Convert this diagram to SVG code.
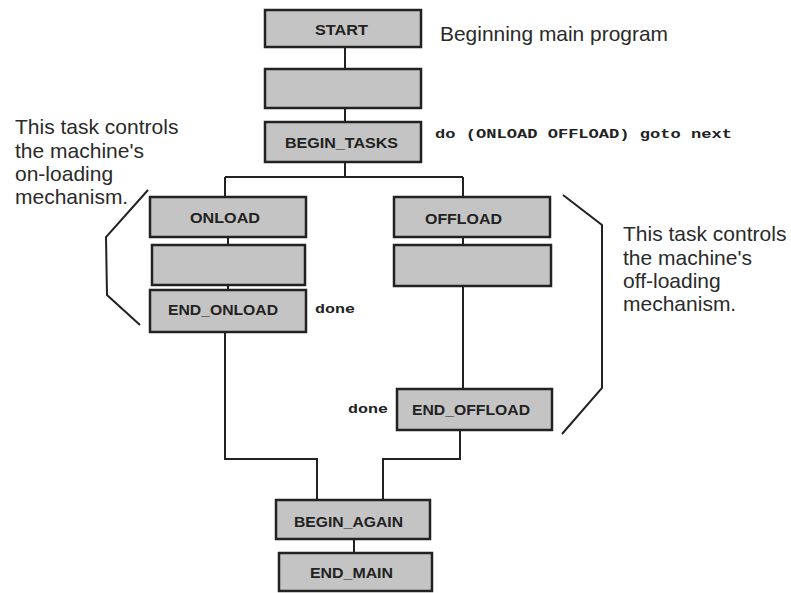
<svg xmlns="http://www.w3.org/2000/svg" width="791" height="593" viewBox="0 0 791 593">
<style>
.box{fill:#c4c4c4;stroke:#222;stroke-width:2.5}
.lbl{font-family:"Liberation Sans",Arial,sans-serif;font-weight:bold;font-size:15px;fill:#222;text-anchor:middle}
.note{font-family:"Liberation Sans",Arial,sans-serif;font-size:21px;fill:#2a2a2a}
.code{font-family:"Liberation Mono","Courier New",monospace;font-weight:bold;font-size:13px;fill:#222}
.ln{fill:none;stroke:#222;stroke-width:2}
</style>
<rect width="791" height="593" fill="#fff"/>
<g id="connectors">
<path class="ln" d="M345 47V69M345 108V122M345 162V177M225 177H463M225 177V197M463 177V197"/>
<path class="ln" d="M228 237V245M228 285V290M463 237V245M463 286V389"/>
<path class="ln" d="M225 332V459H317V500M460 430V459H383V500M354 539V553"/>
<path class="ln" d="M148 190L106 237L107 295L140 325"/>
<path class="ln" d="M563 195L602 225L602 388L562 434"/>
</g>
<g id="start"><rect class="box" x="265" y="10" width="156" height="37"/><text class="lbl" x="341.5" y="35" textLength="53" lengthAdjust="spacingAndGlyphs">START</text></g>
<g id="step2"><rect class="box" x="265" y="69" width="156" height="39"/></g>
<g id="begin_tasks"><rect class="box" x="265" y="122" width="156" height="40"/><text class="lbl" x="341.5" y="148" textLength="113" lengthAdjust="spacingAndGlyphs">BEGIN_TASKS</text></g>
<g id="onload"><rect class="box" x="150" y="197" width="156" height="40"/><text class="lbl" x="225" y="223" textLength="70" lengthAdjust="spacingAndGlyphs">ONLOAD</text></g>
<g id="onload2"><rect class="box" x="152" y="245" width="153" height="40"/></g>
<g id="end_onload"><rect class="box" x="150" y="290" width="156" height="42"/><text class="lbl" x="223" y="315" textLength="110" lengthAdjust="spacingAndGlyphs">END_ONLOAD</text></g>
<g id="offload"><rect class="box" x="394" y="197" width="156" height="40"/><text class="lbl" x="463.5" y="224" textLength="77" lengthAdjust="spacingAndGlyphs">OFFLOAD</text></g>
<g id="offload2"><rect class="box" x="394" y="245" width="157" height="41"/></g>
<g id="end_offload"><rect class="box" x="397" y="389" width="155" height="41"/><text class="lbl" x="471" y="415" textLength="118" lengthAdjust="spacingAndGlyphs">END_OFFLOAD</text></g>
<g id="begin_again"><rect class="box" x="276" y="500" width="154" height="39"/><text class="lbl" x="348.5" y="527" textLength="109" lengthAdjust="spacingAndGlyphs">BEGIN_AGAIN</text></g>
<g id="end_main"><rect class="box" x="279" y="553" width="153" height="38"/><text class="lbl" x="351.5" y="578" textLength="83" lengthAdjust="spacingAndGlyphs">END_MAIN</text></g>
<text class="note" x="440" y="41" textLength="228" lengthAdjust="spacingAndGlyphs">Beginning main program</text>
<text class="code" x="435" y="138" textLength="297" lengthAdjust="spacingAndGlyphs">do (ONLOAD OFFLOAD) goto next</text>
<text class="code" x="315" y="313" textLength="40" lengthAdjust="spacingAndGlyphs">done</text>
<text class="code" x="348" y="413" textLength="40" lengthAdjust="spacingAndGlyphs">done</text>
<text class="note"><tspan x="15" y="134">This task controls</tspan><tspan x="15" y="158">the machine's</tspan><tspan x="15" y="181">on-loading</tspan><tspan x="15" y="204">mechanism.</tspan></text>
<text class="note"><tspan x="623" y="241">This task controls</tspan><tspan x="623" y="265">the machine's</tspan><tspan x="623" y="288">off-loading</tspan><tspan x="623" y="311">mechanism.</tspan></text>
</svg>
